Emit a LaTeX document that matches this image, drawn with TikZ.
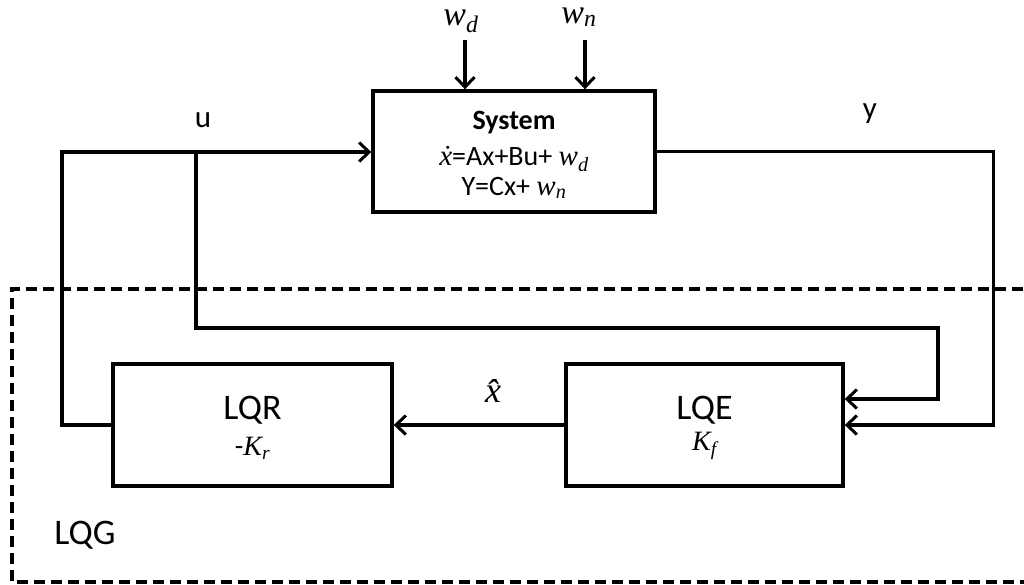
\documentclass[tikz,border=0pt]{standalone}
\usepackage{fontspec}
\setmainfont{Carlito}
\newfontfamily\mifont{Liberation Serif}
\newcommand{\mvar}[2]{{\mifont\itshape #1\textsubscript{#2}}}
\usetikzlibrary{arrows.meta,calc}
\begin{document}
\begin{tikzpicture}[x=1pt,y=-1pt,
  box/.style={draw, line width=3.4pt, inner sep=0pt},
  wire/.style={line width=3.4pt},
  arr/.style={wire, -{Straight Barb[length=10pt,width=19pt,line width=3pt]}},
  big/.style={font=\fontsize{36}{42}\selectfont, inner sep=0pt},
  mth/.style={font=\fontsize{36}{42}\selectfont, inner sep=0pt},
  topm/.style={font=\fontsize{34}{40}\selectfont, inner sep=0pt, anchor=base, text height=15pt, text depth=10pt},
  mid/.style={font=\fontsize{31}{36}\selectfont, inner sep=0pt},
  eq/.style={font=\fontsize{28}{32}\selectfont, inner sep=0pt},
  sub/.style={font=\fontsize{28}{32}\selectfont, inner sep=0pt},
  lqg/.style={dash pattern=on 11pt off 6pt, line width=3.4pt}]
\useasboundingbox (0,0) rectangle (1024,584);
\fill[white] (0,0) rectangle (1024,584);

% LQG dashed frame
\draw[lqg] (1040,289) -- (12,289) -- (12,582) -- (1040,582);
\node[big] (lqglab) at (85,535) {LQG};

% System
\node[box, minimum width=282pt, minimum height=121pt] (sys) at (514,151.5) {};
\node[eq, font=\fontsize{28}{32}\selectfont\bfseries] (systitle) at (514,123) {System};
\node[eq] (sysx) at (514,159) {{\mifont\itshape\fontsize{29}{32}\selectfont \.{x}}=Ax+Bu+ {\fontsize{29}{32}\selectfont\mvar{w}{d}}};
\node[eq] (sysy) at (514,188) {Y=Cx+ {\fontsize{29}{32}\selectfont\mvar{w}{n}}};

% disturbances
\node[topm] (wd) at (461,25) {\mvar{w}{d}};
\node[topm] (wn) at (579,23) {\mvar{w}{n}};
\coordinate (wdt) at (465,40);
\coordinate (wnt) at (585,40);
\draw[arr] (wdt) -- (wdt |- sys.north);
\draw[arr] (wnt) -- (wnt |- sys.north);

% LQR / LQE
\node[box, minimum width=279pt, minimum height=122pt] (lqr) at (252.5,425) {};
\node[big] (lqrt) at (252.5,410) {LQR};
\node[sub] (lqrk) at (252.5,448) {-\mvar{K}{r}};
\node[box, minimum width=277pt, minimum height=122pt] (lqe) at (704.5,425) {};
\node[big] (lqet) at (704.5,410) {LQE};
\node[sub] (lqek) at (704.5,446) {\mvar{K}{f}};

% labels
\node[mid] (ulab) at (203,120) {u};
\node[mid] (ylab) at (870,114) {y};
\node[mth] (xhat) at (493,391) {{\mifont\itshape \^{x}}};

% connectors
\coordinate (ul) at (62,152);
\coordinate (br) at (196,152);
\coordinate (bc) at (938,328);
\coordinate (i1) at ($(lqe.east)+(0,-26)$);
\coordinate (or) at ($(lqe.east)+(149,0)$);
\draw[arr] (lqr.west) -| (ul) -- (ul -| sys.west);
\draw[arr] (br) |- (bc) |- (i1);
\draw[arr] (sys.east) -| (or) -- (lqe.east);
\draw[arr] (lqe.west) -- (lqr.east);
\end{tikzpicture}
\end{document}
